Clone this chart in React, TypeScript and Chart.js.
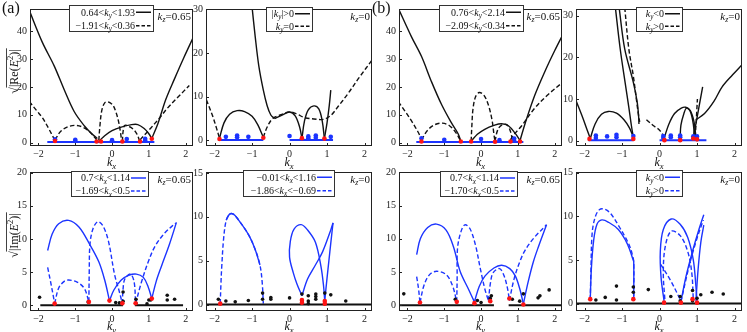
import React, { useEffect, useRef } from 'react';
import { Chart, registerables } from 'chart.js';
Chart.register(...registerables);

type P = [number, number];

// ---------- axis ranges / ticks ----------
const xRange: P = [-2.23, 2.2];
const xTickStep = 1;
const reTicksA = [0, 10, 20, 30, 40];
const reTicksB = [0, 10, 20, 30];
const imTicksA = [0, 5, 10, 15, 20];
const imTicksB = [0, 5, 10, 15];

// ---------- panel 1 : (a) Re, kz=0.65 ----------
const p1SolidL: P[] = [[-2.25, 47.5], [-1.9, 36.2], [-1.57, 27.5], [-1.3, 19], [-1.03, 11.2], [-0.75, 6], [-0.55, 3.2], [-0.4, 1.5]];
const p1SolidArc: P[] = [[-0.35, 0.6], [-0.2, 2.5], [0, 4.3], [0.25, 5.6], [0.5, 6.4], [0.7, 6.5], [0.88, 5], [1.0, 3.2], [1.08, 1.5]];
const p1SolidR: P[] = [[1.08, 1.5], [1.25, 7], [1.46, 15.5], [1.7, 23], [1.95, 30.5], [2.25, 39]];
const p1DashL: P[] = [[-2.25, 14.8], [-2.05, 11.5], [-1.89, 8.9], [-1.72, 5], [-1.58, 1.5]];
const p1DashArc1: P[] = [[-1.55, 1], [-1.4, 4], [-1.2, 5.7], [-1.0, 6.2], [-0.8, 5.6], [-0.6, 3.8], [-0.42, 1]];
const p1DashPeak: P[] = [[-0.36, 0.8], [-0.33, 6], [-0.28, 11.5], [-0.2, 14.3], [-0.1, 14.6], [0.02, 13.5], [0.1, 11.2], [0.17, 8], [0.22, 4.5], [0.26, 0.8]];
const p1DashArc2: P[] = [[0.28, 0.5], [0.3, 4], [0.34, 6.2], [0.45, 5.9], [0.58, 4.8], [0.68, 3], [0.74, 1]];
const p1DashR: P[] = [[0.76, 1], [0.9, 3], [1.05, 5.2], [1.3, 9], [1.5, 12.3], [1.8, 16.5], [2.1, 20.5]];
const p1Base: P[] = [[-1.76, 0.2], [1.15, 0.2]];
const p1Blue: P[] = [[-1.55, 1.2], [-1.0, 1.0], [-1.0, 0.6], [0, 0.9], [0.4, 1.3], [0.9, 1.4], [0.9, 0.8]];
const p1Red: P[] = [[-1.55, 0.6], [-0.42, 0.4], [-0.3, 0.4], [0.28, 0.4], [0.76, 0.4], [1.08, 1.4]];

// ---------- panel 2 : Re, kz=0 ----------
const p2DashL: P[] = [[-2.22, 9.3], [-2.05, 5.5], [-1.95, 2.8], [-1.87, 0.5]];
const p2Arc1: P[] = [[-1.87, 0.5], [-1.75, 4], [-1.6, 6], [-1.4, 6.8], [-1.2, 6.6], [-1.0, 5.5], [-0.85, 3.6], [-0.7, 0.7]];
const p2SolidSteep: P[] = [[-1.0, 30.5], [-0.92, 24], [-0.82, 17], [-0.7, 11.5], [-0.6, 8], [-0.5, 5.8], [-0.4, 5]];
const p2DashMid: P[] = [[-0.7, 0.7], [-0.6, 3], [-0.45, 5], [-0.25, 5.8], [0, 6.5], [0.2, 6], [0.4, 5.2], [0.65, 4.9], [0.9, 4.8], [1.1, 5.7], [1.3, 7.8], [1.55, 10.6], [1.85, 14.3], [2.22, 18.6]];
const p2SolidHump: P[] = [[-0.4, 5], [-0.2, 5.8], [0, 6.5], [0.15, 5.6], [0.27, 3], [0.33, 0.4]];
const p2SolidArc: P[] = [[0.33, 0.4], [0.4, 4.5], [0.5, 7], [0.65, 7.9], [0.78, 7.2], [0.87, 4.5], [0.93, 0.4]];
const p2SolidR: P[] = [[0.93, 0.4], [1.0, 4], [1.06, 8], [1.1, 11.5]];
const p2BaseA: P[] = [[-1.88, 0.1], [-0.7, 0.1]];
const p2BaseB: P[] = [[0, 0.1], [1.16, 0.1]];
const p2Blue: P[] = [[-1.7, 0.8], [-1.4, 1.1], [-1.4, 0.7], [-1.1, 0.8], [0, 1.0], [0.5, 0.9], [0.5, 0.5], [0.7, 1.1], [0.7, 0.6], [1.1, 0.8]];
const p2Red: P[] = [[-1.87, 0.3], [-0.7, 0.6], [0.33, 0.5], [0.93, 0.4]];

// ---------- panel 3 : (b) Re, kz=0.65 ----------
const p3SolidL: P[] = [[-2.25, 48.3], [-1.89, 38], [-1.62, 31], [-1.35, 22], [-1.07, 13.6], [-0.8, 7], [-0.62, 3.1], [-0.55, 0.5]];
const p3SolidArc: P[] = [[-0.27, 0.5], [-0.1, 3], [0.1, 4.8], [0.35, 6.2], [0.56, 6.8], [0.75, 6], [0.92, 3.5], [1.06, 0.8]];
const p3SolidR: P[] = [[1.06, 0.8], [1.2, 7], [1.46, 17], [1.75, 26], [2.0, 33], [2.25, 39.5]];
const p3DashL: P[] = [[-2.25, 14.7], [-2.05, 11], [-1.89, 7.8], [-1.72, 4], [-1.62, 1.4]];
const p3DashArc1: P[] = [[-1.62, 1], [-1.45, 4.5], [-1.25, 6.5], [-1.05, 7], [-0.85, 6], [-0.68, 3.5], [-0.56, 0.8]];
const p3DashPeak: P[] = [[-0.27, 0.5], [-0.25, 6], [-0.22, 12], [-0.15, 16.5], [-0.05, 18], [0.08, 17], [0.2, 13.5], [0.3, 8], [0.35, 3], [0.38, 0.5]];
const p3DashArc2: P[] = [[0.38, 0.5], [0.45, 4.5], [0.55, 6.2], [0.7, 6.5], [0.8, 4], [0.85, 1]];
const p3DashR: P[] = [[0.8, 1], [0.9, 3], [1.1, 6], [1.46, 12.4], [1.8, 17], [2.22, 21.7]];
const p3Base: P[] = [[-1.76, 0.2], [1.15, 0.2]];
const p3Blue: P[] = [[-1.62, 1.6], [-1.0, 1.0], [0, 1.3], [0.5, 0.9], [0.9, 1.5], [0.9, 0.7]];
const p3Red: P[] = [[-1.62, 0.4], [-0.55, 0.4], [-0.27, 0.4], [0.38, 0.3], [0.8, 0.4], [1.06, 0.4]];

// ---------- panel 4 : Re, kz=0 ----------
const p4SolidL: P[] = [[-2.22, 9.4], [-2.05, 5.5], [-1.93, 2.5], [-1.85, 0.5]];
const p4Arc1: P[] = [[-1.85, 0.5], [-1.72, 4], [-1.55, 6.3], [-1.37, 7], [-1.15, 6.6], [-0.95, 5], [-0.8, 3], [-0.7, 0.8]];
const p4SteepA: P[] = [[-1.18, 32], [-1.05, 22], [-0.92, 14], [-0.82, 8], [-0.75, 3.5], [-0.7, 0.8]];
const p4SteepB: P[] = [[-1.08, 32], [-0.93, 22], [-0.7, 14], [-0.6, 9.4], [-0.56, 6], [-0.55, 4]];
const p4SteepC: P[] = [[-0.93, 32], [-0.82, 22], [-0.7, 15.5], [-0.62, 10], [-0.56, 6], [-0.53, 4.5]];
const p4DashMid: P[] = [[-0.35, 5], [-0.15, 3.5], [0.0, 2.5], [0.13, 0.8]];
const p4ArcA: P[] = [[0.13, 0.8], [0.25, 4], [0.4, 6.5], [0.58, 7.8], [0.7, 8], [0.82, 7.2], [0.92, 4.5], [0.97, 0.8]];
const p4ArcB: P[] = [[0.55, 0.8], [0.57, 3.7], [0.65, 6.5], [0.72, 7.8], [0.82, 7], [0.9, 4], [0.93, 0.8]];
const p4UpSolid: P[] = [[0.9, 0.8], [0.97, 4], [1.05, 8], [1.15, 12.9]];
const p4UpDash: P[] = [[0.95, 0.8], [0.98, 5], [1.01, 10]];
const p4SolidR: P[] = [[0.97, 5], [1.2, 6.5], [1.45, 9.4], [1.67, 12.9], [1.95, 15.8], [2.22, 18.4]];
const p4BaseA: P[] = [[-1.9, 0.1], [-0.7, 0.1]];
const p4BaseB: P[] = [[0, 0.1], [1.25, 0.1]];
const p4Blue: P[] = [[-1.7, 1.2], [-1.7, 0.6], [-1.4, 1.0], [-1.15, 1.4], [-1.15, 0.8], [-0.7, 1.1], [0.1, 1.1], [0.1, 0.6], [0.3, 1.2], [0.3, 0.8], [0.55, 1.2], [0.55, 0.8], [0.9, 1.0], [1.0, 1.0]];
const p4Red: P[] = [[-1.87, 0.4], [-0.7, 0.4], [0.13, 0.1], [0.55, 0.1], [0.9, 0.5], [1.0, 0.3]];

// ---------- panel 5 : Im, kz=0.65 (ky) ----------
const p5S1: P[] = [[-1.75, 8.25], [-1.63, 10.7], [-1.45, 12.3], [-1.18, 12.8], [-0.9, 11.8], [-0.61, 9.2], [-0.36, 6.55], [-0.2, 3.8], [-0.07, 0.7]];
const p5S2: P[] = [[-0.07, 0.7], [0.05, 2.3], [0.25, 3.8], [0.45, 4.5], [0.66, 4.7], [0.85, 4.2], [0.98, 2.8], [1.08, 1.0]];
const p5S3: P[] = [[1.08, 1.0], [1.2, 3.6], [1.35, 6], [1.56, 9.2], [1.75, 12.5]];
const p5D1: P[] = [[-1.75, 5.7], [-1.68, 3.8], [-1.6, 1.5], [-1.56, 0.25]];
const p5D2: P[] = [[-1.56, 0.25], [-1.45, 2.6], [-1.3, 3.6], [-1.18, 3.8], [-0.95, 3.5], [-0.75, 2.5], [-0.63, 0.5]];
const p5D3: P[] = [[-0.63, 0.5], [-0.62, 5], [-0.6, 9.2], [-0.52, 11.5], [-0.39, 12.6], [-0.25, 12], [-0.1, 9.7], [0.07, 4.6], [0.2, 2], [0.28, 0.25]];
const p5D4: P[] = [[0.28, 0.25], [0.3, 2.5], [0.35, 4], [0.5, 4.7], [0.6, 3.5], [0.64, 0.25]];
const p5D5: P[] = [[0.64, 0.25], [0.8, 3.5], [1.0, 6.8], [1.18, 9], [1.45, 11], [1.73, 12.4]];
const p5BaseA: P[] = [[-1.95, 0], [0.3, 0]];
const p5BaseB: P[] = [[0.62, 0], [1.93, 0]];
const p5Black: P[] = [[-1.97, 1.2], [-0.65, 0.5], [0.1, 0.4], [0.2, 0.35], [0.3, 2.0], [0.3, 0.6], [0.65, 0.9], [0.65, 0.3], [0.95, 0.2], [1.0, 0.8], [1.05, 0.8], [1.5, 1.5], [1.5, 0.8], [1.7, 0.9]];
const p5Red: P[] = [[-1.56, 0.25], [-0.63, 0.5], [-0.07, 0.7], [0.28, 0.3], [0.64, 0.3], [1.08, 1.0]];

// ---------- panel 6 : Im, kz=0 (kx) ----------
const p6D1: P[] = [[-1.85, 0.1], [-1.83, 2.5], [-1.81, 4.3], [-1.76, 7.5], [-1.69, 9.6], [-1.6, 10.3], [-1.5, 10.3], [-1.39, 9.8], [-1.1, 8], [-0.92, 6.3], [-0.79, 4.5], [-0.73, 2.5], [-0.7, 0.1]];
const p6S1: P[] = [[-1.69, 9.6], [-1.6, 10.3], [-1.5, 10.3], [-1.39, 9.8], [-1.1, 8], [-0.92, 6.3], [-0.79, 4.5]];
const p6Loop: P[] = [[0.33, 1.0], [0.2, 2.3], [0.1, 3.6], [0.0, 5.4], [0.02, 7.2], [0.12, 8.6], [0.31, 9.1], [0.48, 8.5], [0.69, 7.1], [0.84, 4.3], [0.91, 2], [0.94, 0.3]];
const p6Line1: P[] = [[0.33, 1.0], [0.48, 2.9], [0.69, 4.5], [0.88, 6], [1.1, 8.5], [1.16, 9.3]];
const p6Line2: P[] = [[0.94, 0.5], [1.0, 3], [1.05, 5], [1.1, 7], [1.16, 9.3]];
const p6Base: P[] = [[-2.3, 0], [2.3, 0]];
const p6Black: P[] = [[-1.9, 0.6], [-1.7, 0.4], [-1.45, 0.3], [-1.1, 0.45], [-0.72, 1.3], [-0.72, 0.6], [-0.5, 0.8], [-0.5, 0.6], [0, 0.75], [0.33, 1.2], [0.33, 0.3], [0.5, 1.0], [0.5, 0.4], [0.5, 0.1], [0.7, 1.2], [0.7, 0.9], [0.7, 0.6], [0.94, 1.3], [1.1, 1.1], [1.5, 0.4]];
const p6Red: P[] = [[-1.85, 0.1], [0.33, 0.5], [0.33, 0.2], [0.94, 0.4], [0.94, 0.1]];

// ---------- panel 7 : Im, kz=0.65 (ky) ----------
const p7S1: P[] = [[-1.75, 7.6], [-1.65, 10], [-1.45, 11.7], [-1.21, 12.2], [-0.95, 11.3], [-0.75, 8.8], [-0.57, 5.1], [-0.35, 2.5], [-0.18, 0.5]];
const p7S2: P[] = [[-0.18, 0.5], [-0.05, 2.8], [0.11, 4.4], [0.35, 5.6], [0.56, 6], [0.78, 5.5], [0.93, 4.4], [1.05, 2.5], [1.15, 0.2]];
const p7S3: P[] = [[1.15, 0.2], [1.28, 3.5], [1.42, 6.5], [1.56, 8.8], [1.78, 12.1]];
const p7D1: P[] = [[-1.75, 4.3], [-1.7, 2.5], [-1.66, 0.4]];
const p7D2: P[] = [[-1.66, 0.4], [-1.55, 3], [-1.4, 4.6], [-1.21, 5.1], [-0.95, 4.6], [-0.78, 3], [-0.66, 0.5]];
const p7D3: P[] = [[-0.66, 0.5], [-0.65, 4], [-0.64, 8.5], [-0.55, 11], [-0.44, 12.1], [-0.3, 11.5], [-0.15, 9], [-0.02, 5.5], [0.1, 2.5], [0.2, 0.7]];
const p7D4: P[] = [[0.2, 0.7], [0.26, 3.5], [0.33, 4.9], [0.5, 5.5], [0.62, 4.5], [0.72, 2.5], [0.77, 0.7]];
const p7D5: P[] = [[0.77, 0.7], [0.9, 4], [1.05, 6.5], [1.2, 8.3], [1.45, 10.2], [1.78, 12.1]];
const p7BaseA: P[] = [[-2.3, 0], [0.35, 0]];
const p7BaseB: P[] = [[0.75, 0], [2.3, 0]];
const p7Black: P[] = [[-2.1, 1.7], [-0.7, 0.9], [-0.1, 0.7], [0.0, 0.4], [0.25, 1.0], [0.28, 1.4], [0.77, 1.0], [0.85, 0.9], [1.05, 0.6], [1.15, 1.7], [1.55, 1.1], [1.6, 1.4], [1.85, 2.3]];
const p7Red: P[] = [[-1.66, 0.4], [-0.66, 0.5], [-0.18, 0.3], [0.25, 0.6], [0.77, 1.0], [1.15, 0.1]];

// ---------- panel 8 : Im, kz=0 (kx) ----------
const p8Outer: P[] = [[-1.85, 0.4], [-1.83, 4], [-1.8, 8], [-1.72, 9.9], [-1.6, 10.8], [-1.45, 10.8], [-1.3, 10.3], [-1.06, 8.7], [-0.9, 7.5], [-0.79, 6.5], [-0.72, 5.5], [-0.69, 4.8], [-0.69, 0.4]];
const p8Inner: P[] = [[-1.85, 0.4], [-1.82, 4], [-1.76, 7.2], [-1.67, 9.1], [-1.54, 9.6], [-1.35, 9.3], [-1.1, 8.5], [-0.9, 7.2], [-0.79, 6.1], [-0.72, 5.2], [-0.69, 4.8], [-0.69, 0.4]];
const p8ArcS: P[] = [[0.12, 0.3], [0.04, 3], [0.02, 6], [0.1, 8.5], [0.31, 9.7], [0.55, 9.1], [0.75, 7.6], [0.9, 5], [0.97, 2], [1.0, 0.2]];
const p8ArcD: P[] = [[0.14, 0.5], [0.1, 3.5], [0.15, 6.5], [0.31, 8.3], [0.55, 7.8], [0.75, 6], [0.86, 3.5], [0.9, 0.5]];
const p8UpS: P[] = [[0.57, 0.2], [0.7, 3], [0.88, 6], [1.05, 8.5], [1.18, 10.2]];
const p8UpD: P[] = [[0.57, 0.2], [0.8, 4.5], [1.0, 7.5], [1.17, 9.6]];
const p8UpS2: P[] = [[0.97, 0.3], [1.03, 4], [1.1, 7], [1.18, 9]];
const p8Cross: P[] = [[0.03, 4.5], [0.3, 2.6], [0.57, 0.3]];
const p8Base: P[] = [[-2.3, 0], [2.3, 0]];
const p8Black: P[] = [[-1.7, 0.4], [-1.45, 0.7], [-1.15, 2.0], [-1.15, 0.4], [-0.7, 1.9], [-0.7, 1.3], [-0.3, 1.6], [0.3, 0.8], [0.55, 0.8], [0.55, 0.3], [0.88, 1.5], [0.88, 0.3], [1.0, 0.6], [1.1, 1.0], [1.4, 1.3], [1.7, 1.1]];
const p8Red: P[] = [[-1.85, 0.5], [-0.7, 0.5], [0.12, 0.1], [0.57, 0.1], [0.88, 0.5], [1.0, 0.1]];

// ---------- styling ----------
const FONT = '"Liberation Serif", "Times New Roman", serif';
const K = '#111';
const BLUE = 'rgb(28,52,255)';
const RED = 'rgb(255,20,20)';

type Seg = { t: string; it?: boolean; sub?: boolean; sup?: boolean };
const R = (t: string): Seg => ({ t });
const I = (t: string): Seg => ({ t, it: true });
const S = (t: string): Seg => ({ t, it: true, sub: true });

const pts = (d: P[]) => d.map(([x, y]) => ({ x, y }));
const curve = (d: P[], color: string, dash = false) => ({
  data: pts(d), showLine: true, borderColor: color, borderWidth: 1.4,
  borderDash: dash ? [4.5, 2.5] : [], pointRadius: 0, tension: 0.35, fill: false,
});
const base = (d: P[], color: string) => ({
  data: pts(d), showLine: true, borderColor: color, borderWidth: 2, pointRadius: 0, tension: 0, fill: false,
});
const dots = (d: P[], color: string, r = 2.3) => ({
  data: pts(d), showLine: false, pointRadius: r, pointBackgroundColor: color,
  pointBorderColor: color, pointBorderWidth: 0, borderColor: color, backgroundColor: color,
});

interface Panel {
  l: number; t: number; r: number; b: number;
  y: P; yTicks: number[]; xTitle: Seg[]; yTitle?: 'Re' | 'Im'; tag?: string;
  leg: { x1: number; y1: number; x2: number; y2: number; rows: Seg[][]; color: string };
  kz: Seg[]; sets: any[];
}

const kz065 = [I('k'), S('z'), R('=0.65')];
const kz0 = [I('k'), S('z'), R('=0')];
const kxT = [I('k'), S('x')];
const kyT = [I('k'), S('y')];

const panels: Panel[] = [
  {
    l: 30, t: 4, r: 194, b: 146, y: [-1.2, 48], yTicks: reTicksA, xTitle: kxT, yTitle: 'Re', tag: '(a)',
    leg: { x1: 69, y1: 5, x2: 154, y2: 32, color: K, rows: [[R('0.64<'), I('k'), S('y'), R('<1.93')], [R('\u22121.91<'), I('k'), S('y'), R('<0.36')]] },
    kz: kz065,
    sets: [dots(p1Red, RED), dots(p1Blue, BLUE), base(p1Base, BLUE),
      curve(p1SolidL, K), curve(p1SolidArc, K), curve(p1SolidR, K),
      curve(p1DashL, K, true), curve(p1DashArc1, K, true), curve(p1DashPeak, K, true), curve(p1DashArc2, K, true), curve(p1DashR, K, true)],
  },
  {
    l: 206, t: 4, r: 373, b: 146, y: [-1.3, 30.1], yTicks: reTicksB, xTitle: kxT,
    leg: { x1: 266, y1: 7, x2: 313, y2: 32, color: K, rows: [[R('|'), I('k'), S('y'), R('|>0')], [I('k'), S('y'), R('=0')]] },
    kz: kz0,
    sets: [dots(p2Red, RED), dots(p2Blue, BLUE), base(p2BaseA, BLUE), base(p2BaseB, BLUE),
      curve(p2DashL, K, true), curve(p2Arc1, K), curve(p2SolidSteep, K), curve(p2DashMid, K, true),
      curve(p2SolidHump, K), curve(p2SolidArc, K), curve(p2SolidR, K)],
  },
  {
    l: 399, t: 4, r: 563, b: 146, y: [-1.2, 48], yTicks: reTicksA, xTitle: kxT, tag: '(b)',
    leg: { x1: 439, y1: 5, x2: 524, y2: 32, color: K, rows: [[R('0.76<'), I('k'), S('y'), R('<2.14')], [R('\u22122.09<'), I('k'), S('y'), R('<0.34')]] },
    kz: kz065,
    sets: [dots(p3Red, RED), dots(p3Blue, BLUE), base(p3Base, BLUE),
      curve(p3SolidL, K), curve(p3SolidArc, K), curve(p3SolidR, K),
      curve(p3DashL, K, true), curve(p3DashArc1, K, true), curve(p3DashPeak, K, true), curve(p3DashArc2, K, true), curve(p3DashR, K, true)],
  },
  {
    l: 576, t: 4, r: 743, b: 146, y: [-1.3, 31.6], yTicks: reTicksB, xTitle: kxT,
    leg: { x1: 636, y1: 7, x2: 683, y2: 32, color: K, rows: [[I('k'), S('y'), R('<0')], [I('k'), S('y'), R('>0')]] },
    kz: kz0,
    sets: [dots(p4Red, RED), dots(p4Blue, BLUE), base(p4BaseA, BLUE), base(p4BaseB, BLUE),
      curve(p4SolidL, K), curve(p4Arc1, K), curve(p4SteepA, K), curve(p4SteepB, K), curve(p4SteepC, K, true),
      curve(p4DashMid, K, true), curve(p4ArcA, K), curve(p4ArcB, K), curve(p4UpSolid, K), curve(p4UpDash, K, true), curve(p4SolidR, K)],
  },
  {
    l: 30, t: 167, r: 194, b: 311, y: [-0.87, 20.1], yTicks: imTicksA, xTitle: kyT, yTitle: 'Im',
    leg: { x1: 71, y1: 171, x2: 149, y2: 197, color: BLUE, rows: [[R('0.7<'), I('k'), S('x'), R('<1.14')], [R('\u22121.69<'), I('k'), S('x'), R('<0.5')]] },
    kz: kz065,
    sets: [dots(p5Red, RED), dots(p5Black, K, 1.8), base(p5BaseA, K), base(p5BaseB, K),
      curve(p5S1, BLUE), curve(p5S2, BLUE), curve(p5S3, BLUE),
      curve(p5D1, BLUE, true), curve(p5D2, BLUE, true), curve(p5D3, BLUE, true), curve(p5D4, BLUE, true), curve(p5D5, BLUE, true)],
  },
  {
    l: 206, t: 167, r: 373, b: 311, y: [-0.74, 15.1], yTicks: imTicksB, xTitle: kxT,
    leg: { x1: 243, y1: 170, x2: 335, y2: 197, color: BLUE, rows: [[R('\u22120.01<'), I('k'), S('x'), R('<1.16')], [R('\u22121.86<'), I('k'), S('x'), R('<\u22120.69')]] },
    kz: kz0,
    sets: [dots(p6Red, RED), dots(p6Black, K, 1.8), base(p6Base, K),
      curve(p6D1, BLUE, true), curve(p6S1, BLUE), curve(p6Loop, BLUE), curve(p6Line1, BLUE), curve(p6Line2, BLUE)],
  },
  {
    l: 399, t: 167, r: 563, b: 311, y: [-0.88, 20.05], yTicks: imTicksA, xTitle: kyT,
    leg: { x1: 440, y1: 171, x2: 518, y2: 197, color: BLUE, rows: [[R('0.7<'), I('k'), S('x'), R('<1.14')], [R('\u22121.70<'), I('k'), S('x'), R('<0.5')]] },
    kz: kz065,
    sets: [dots(p7Red, RED), dots(p7Black, K, 1.8), base(p7BaseA, K), base(p7BaseB, K),
      curve(p7S1, BLUE), curve(p7S2, BLUE), curve(p7S3, BLUE),
      curve(p7D1, BLUE, true), curve(p7D2, BLUE, true), curve(p7D3, BLUE, true), curve(p7D4, BLUE, true), curve(p7D5, BLUE, true)],
  },
  {
    l: 576, t: 167, r: 743, b: 311, y: [-0.86, 15.1], yTicks: imTicksB, xTitle: kxT,
    leg: { x1: 636, y1: 170, x2: 683, y2: 197, color: BLUE, rows: [[I('k'), S('y'), R('<0')], [I('k'), S('y'), R('>0')]] },
    kz: kz0,
    sets: [dots(p8Red, RED), dots(p8Black, K, 1.8), base(p8Base, K),
      curve(p8Outer, BLUE, true), curve(p8Inner, BLUE), curve(p8ArcS, BLUE), curve(p8ArcD, BLUE, true),
      curve(p8UpS, BLUE), curve(p8UpD, BLUE, true), curve(p8UpS2, BLUE), curve(p8Cross, BLUE, true)],
  },
];

// ---------- rich text helpers ----------
function segFont(s: Seg, size: number) {
  const sz = s.sub || s.sup ? size * 0.72 : size;
  return `${s.it ? 'italic ' : ''}${sz}px ${FONT}`;
}
function richWidth(ctx: CanvasRenderingContext2D, segs: Seg[], size: number) {
  let w = 0;
  for (const s of segs) { ctx.font = segFont(s, size); w += ctx.measureText(s.t).width; }
  return w;
}
function drawRich(ctx: CanvasRenderingContext2D, segs: Seg[], x: number, y: number, size: number, align: 'left' | 'right' | 'center') {
  const w = richWidth(ctx, segs, size);
  let cx = align === 'right' ? x - w : align === 'center' ? x - w / 2 : x;
  ctx.textAlign = 'left';
  ctx.textBaseline = 'alphabetic';
  for (const s of segs) {
    ctx.font = segFont(s, size);
    const dy = s.sub ? size * 0.22 : s.sup ? -size * 0.4 : 0;
    ctx.fillText(s.t, cx, y + dy);
    cx += ctx.measureText(s.t).width;
  }
  return w;
}

const AXW = 30; // y-axis width in px
const PADT = 4;

function makeDecor(p: Panel) {
  const ox = p.l - AXW, oy = p.t - PADT;
  return {
    id: 'decor',
    afterDraw(chart: any) {
      const ctx: CanvasRenderingContext2D = chart.ctx;
      const a = chart.chartArea;
      const xs = chart.scales.x, ys = chart.scales.y;
      ctx.save();
      ctx.strokeStyle = '#222';
      ctx.lineWidth = 1;
      ctx.strokeRect(a.left + 0.5, a.top + 0.5, a.right - a.left - 1, a.bottom - a.top - 1);
      ctx.beginPath();
      for (const t of xs.ticks) {
        const px = Math.round(xs.getPixelForValue(t.value)) + 0.5;
        ctx.moveTo(px, a.bottom); ctx.lineTo(px, a.bottom - 3);
      }
      for (const t of ys.ticks) {
        const py = Math.round(ys.getPixelForValue(t.value)) + 0.5;
        ctx.moveTo(a.left, py); ctx.lineTo(a.left + 3, py);
      }
      ctx.stroke();
      // legend box
      const L = p.leg;
      const bx = L.x1 - ox, by = L.y1 - oy, bw = L.x2 - L.x1, bh = L.y2 - L.y1;
      ctx.fillStyle = '#fff';
      ctx.fillRect(bx, by, bw, bh);
      ctx.strokeStyle = '#333';
      ctx.lineWidth = 1;
      ctx.strokeRect(bx + 0.5, by + 0.5, bw - 1, bh - 1);
      const rowH = bh / 2;
      L.rows.forEach((row, i) => {
        const cy = by + rowH * (i + 0.5) + 0.5;
        ctx.fillStyle = '#111';
        drawRich(ctx, row, bx + bw - 19, cy + 3.4, 10, 'right');
        ctx.strokeStyle = L.color;
        ctx.lineWidth = 1.5;
        ctx.setLineDash(i === 0 ? [] : [3.5, 2]);
        ctx.beginPath();
        ctx.moveTo(bx + bw - 18, cy); ctx.lineTo(bx + bw - 3, cy);
        ctx.stroke();
        ctx.setLineDash([]);
      });
      // kz label
      ctx.fillStyle = '#111';
      drawRich(ctx, p.kz, a.right - 2, a.top + 11, 11, 'right');
      // x title
      const xt = p.t < 100 ? 166 : 330;
      drawRich(ctx, p.xTitle, (a.left + a.right) / 2, xt - oy, 12, 'center');
      // y title
      if (p.yTitle) {
        const segs: Seg[] = [R('|' + p.yTitle + '('), I('E'), { t: '2', sup: true }, R(')|')];
        ctx.save();
        ctx.translate(18 - ox, (a.top + a.bottom) / 2 - 6);
        ctx.rotate(-Math.PI / 2);
        const w = richWidth(ctx, segs, 12);
        ctx.font = `12px ${FONT}`;
        const sw = ctx.measureText('\u221a').width;
        const total = w + sw;
        ctx.fillStyle = '#111';
        ctx.textAlign = 'left';
        ctx.fillText('\u221a', -total / 2, 0);
        drawRich(ctx, segs, -total / 2 + sw, 0, 12, 'left');
        ctx.strokeStyle = '#111';
        ctx.lineWidth = 0.8;
        ctx.beginPath();
        ctx.moveTo(-total / 2 + sw - 0.5, -11.5);
        ctx.lineTo(total / 2 + 1, -11.5);
        ctx.stroke();
        ctx.restore();
      }
      if (p.tag) {
        ctx.fillStyle = '#111';
        ctx.font = `16px ${FONT}`;
        ctx.textAlign = 'left';
        ctx.textBaseline = 'alphabetic';
        const tx = p.tag === '(a)' ? 2 : 372;
        ctx.fillText(p.tag, tx - ox, 13 - oy);
      }
      ctx.restore();
    },
  };
}

function PanelChart({ p }: { p: Panel }) {
  const ref = useRef<HTMLCanvasElement | null>(null);
  const ox = p.l - AXW, oy = p.t - PADT;
  const w = p.r - p.l + AXW + 3;
  const bottomExtra = p.t < 100 ? 24 : 332 - p.b;
  const h = p.b - p.t + PADT + bottomExtra;
  useEffect(() => {
    if (!ref.current) return;
    const yt = p.yTicks;
    const chart = new Chart(ref.current, {
      type: 'scatter',
      data: { datasets: p.sets },
      options: {
        animation: false,
        responsive: false,
        devicePixelRatio: 1,
        layout: { padding: { top: PADT, right: 3, left: 0, bottom: 0 } },
        plugins: { legend: { display: false }, tooltip: { enabled: false } },
        scales: {
          x: {
            type: 'linear', min: xRange[0], max: xRange[1],
            grid: { display: false, drawTicks: false }, border: { display: false },
            ticks: {
              stepSize: xTickStep, includeBounds: false, padding: 2, color: '#222',
              font: { family: FONT, size: 10 }, maxRotation: 0,
              callback: (v: any) => String(v).replace('-', '\u2212'),
            },
            afterFit: (s: any) => { s.height = bottomExtra; },
          },
          y: {
            type: 'linear', min: p.y[0], max: p.y[1],
            grid: { display: false, drawTicks: false }, border: { display: false },
            ticks: {
              stepSize: yt[1] - yt[0], includeBounds: false, padding: 3, color: '#222',
              font: { family: FONT, size: 10 },
              callback: (v: any) => (yt.includes(Number(v)) ? String(v) : ''),
            },
            afterFit: (s: any) => { s.width = AXW; },
          },
        },
      } as any,
      plugins: [makeDecor(p)],
    });
    return () => chart.destroy();
  }, []);
  return (
    <canvas ref={ref} width={w} height={h}
      style={{ position: 'absolute', left: ox, top: oy, width: w, height: h }} />
  );
}

export default function App() {
  return (
    <div style={{ position: 'absolute', left: 0, top: 0, width: 747, height: 332, background: '#fff', overflow: 'hidden' }}>
      {panels.map((p, i) => <PanelChart key={i} p={p} />)}
    </div>
  );
}
